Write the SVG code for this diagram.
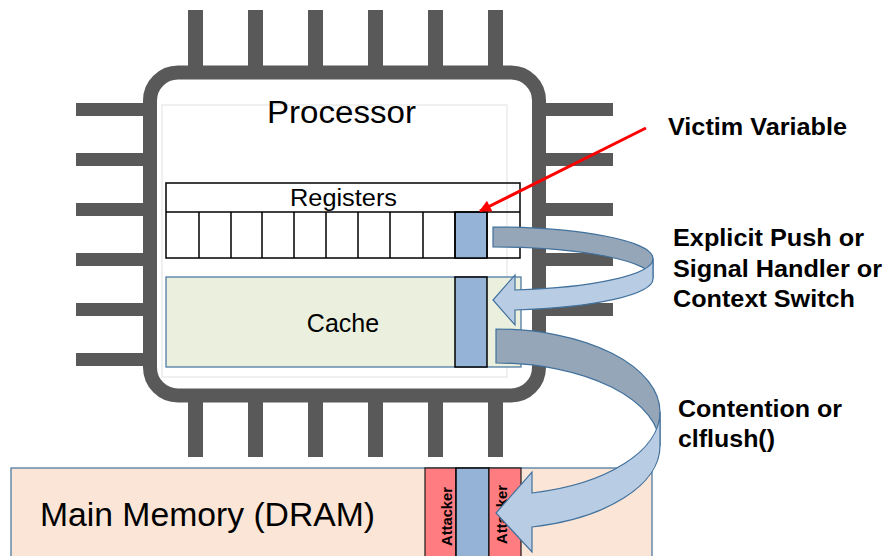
<svg xmlns="http://www.w3.org/2000/svg" width="886" height="556" viewBox="0 0 886 556">
<defs>
<style>
.pin{fill:#595959}
.chip{fill:#ffffff;stroke:#595959;stroke-width:14}
.cell{fill:none;stroke:#000000;stroke-width:1.5}
.victim{fill:#95b3d7;stroke:#000000;stroke-width:1.5}
.atk{fill:#ff7c80;stroke:#1a1a1a;stroke-width:1.2}
.back{fill:#95a6b9;stroke:#41719c;stroke-width:1.2}
.front{fill:#b8cce4;stroke:#41719c;stroke-width:1.2}
.t{font-family:"Liberation Sans",Arial,sans-serif;fill:#000000}
.b{font-family:"Liberation Sans",Arial,sans-serif;font-weight:bold;fill:#000000}
</style>
<marker id="redhead" viewBox="0 0 10 10" refX="9" refY="5" markerWidth="4.2" markerHeight="4" orient="auto" markerUnits="strokeWidth">
<path d="M0,0 L10,5 L0,10 Z" fill="#ff0000"/>
</marker>
</defs>

<g id="processor">
<g id="pins">
<rect class="pin" x="188" y="10" width="15" height="60"/>
<rect class="pin" x="248" y="10" width="15" height="60"/>
<rect class="pin" x="308" y="10" width="15" height="60"/>
<rect class="pin" x="368" y="10" width="15" height="60"/>
<rect class="pin" x="428" y="10" width="15" height="60"/>
<rect class="pin" x="488" y="10" width="15" height="60"/>
<rect class="pin" x="188" y="398" width="15" height="59"/>
<rect class="pin" x="248" y="398" width="15" height="59"/>
<rect class="pin" x="308" y="398" width="15" height="59"/>
<rect class="pin" x="368" y="398" width="15" height="59"/>
<rect class="pin" x="428" y="398" width="15" height="59"/>
<rect class="pin" x="488" y="398" width="15" height="59"/>
<rect class="pin" x="76" y="103" width="72" height="13"/>
<rect class="pin" x="76" y="153" width="72" height="13"/>
<rect class="pin" x="76" y="203" width="72" height="13"/>
<rect class="pin" x="76" y="253" width="72" height="13"/>
<rect class="pin" x="76" y="303" width="72" height="13"/>
<rect class="pin" x="76" y="353" width="72" height="13"/>
<rect class="pin" x="541" y="103" width="72" height="13"/>
<rect class="pin" x="541" y="153" width="72" height="13"/>
<rect class="pin" x="541" y="203" width="72" height="13"/>
<rect class="pin" x="541" y="253" width="72" height="13"/>
<rect class="pin" x="541" y="303" width="72" height="13"/>
<rect class="pin" x="541" y="353" width="72" height="13"/>
</g>
<rect class="chip" x="150" y="72.5" width="389" height="323" rx="28"/>
<rect x="162" y="105" width="345" height="272" fill="none" stroke="#ebebeb" stroke-width="1.5"/>
<text class="t" x="267" y="123" font-size="31" textLength="149" lengthAdjust="spacingAndGlyphs">Processor</text>
</g>

<g id="registers">
<rect class="cell" x="166" y="183" width="354" height="75" fill="#ffffff"/>
<rect class="victim" x="455" y="212" width="32" height="46"/>
<line class="cell" x1="166" y1="212" x2="520" y2="212"/>
<path class="cell" d="M199,212V258M231,212V258M262,212V258M294,212V258M326,212V258M358,212V258M390,212V258M423,212V258M455,212V258M487,212V258"/>
<text class="t" x="343.5" y="206" font-size="23" text-anchor="middle" textLength="107" lengthAdjust="spacingAndGlyphs">Registers</text>
</g>

<g id="cache">
<rect x="166" y="277" width="355" height="90" fill="#ebf0de" stroke="#41719c" stroke-width="1.2"/>
<rect class="victim" x="455" y="277" width="32" height="90"/>
<text class="t" x="343" y="332" font-size="25" text-anchor="middle">Cache</text>
</g>

<g id="memory">
<rect x="11" y="468" width="641" height="100" fill="#fbe5d6" stroke="#41719c" stroke-width="1.2"/>
<rect class="atk" x="425" y="468" width="31" height="100"/>
<rect class="victim" x="456" y="468" width="33" height="100"/>
<rect class="atk" x="489" y="468" width="32" height="100"/>
<text class="b" transform="translate(452,546) rotate(-90)" font-size="15" textLength="59" lengthAdjust="spacingAndGlyphs">Attacker</text>
<text class="b" transform="translate(507,544) rotate(-90)" font-size="15" textLength="59" lengthAdjust="spacingAndGlyphs">Attacker</text>
<text class="t" x="40" y="526" font-size="33.5" textLength="335" lengthAdjust="spacingAndGlyphs">Main Memory (DRAM)</text>
</g>

<g id="connectors">
<g id="push-arrow">
<path class="back" d="M493,227 A160,31.6 0 0 1 653,258.6 L653,278.6 A160,31.6 0 0 0 493,247 Z"/>
<path class="front" d="M653,258.6 A160,31.6 0 0 1 515,290 L515,275 L493,300 L515,325 L515,310 A160,31.6 0 0 0 653,278.6 Z"/>
</g>
<g id="flush-arrow">
<path class="back" d="M496,329 A164,83 0 0 1 660,412 L660,446 A164,83 0 0 0 496,363 Z"/>
<path class="front" d="M660,412 A164,83 0 0 1 532,493 L532,472 L496,513 L532,552 L532,527 A164,83 0 0 0 660,446 Z"/>
</g>
<line id="victim-pointer" x1="646" y1="128" x2="480" y2="211" stroke="#ff0000" stroke-width="3" marker-end="url(#redhead)"/>
</g>

<g id="labels">
<text class="b" x="668" y="135" font-size="23.5" textLength="179" lengthAdjust="spacingAndGlyphs">Victim Variable</text>
<text class="b" x="673" y="246" font-size="23" textLength="191" lengthAdjust="spacingAndGlyphs">Explicit Push or</text>
<text class="b" x="673" y="277" font-size="23" textLength="209" lengthAdjust="spacingAndGlyphs">Signal Handler or</text>
<text class="b" x="673" y="307" font-size="23" textLength="182" lengthAdjust="spacingAndGlyphs">Context Switch</text>
<text class="b" x="678" y="417" font-size="23" textLength="164" lengthAdjust="spacingAndGlyphs">Contention or</text>
<text class="b" x="678" y="447" font-size="23" textLength="97" lengthAdjust="spacingAndGlyphs">clflush()</text>
</g>
</svg>
